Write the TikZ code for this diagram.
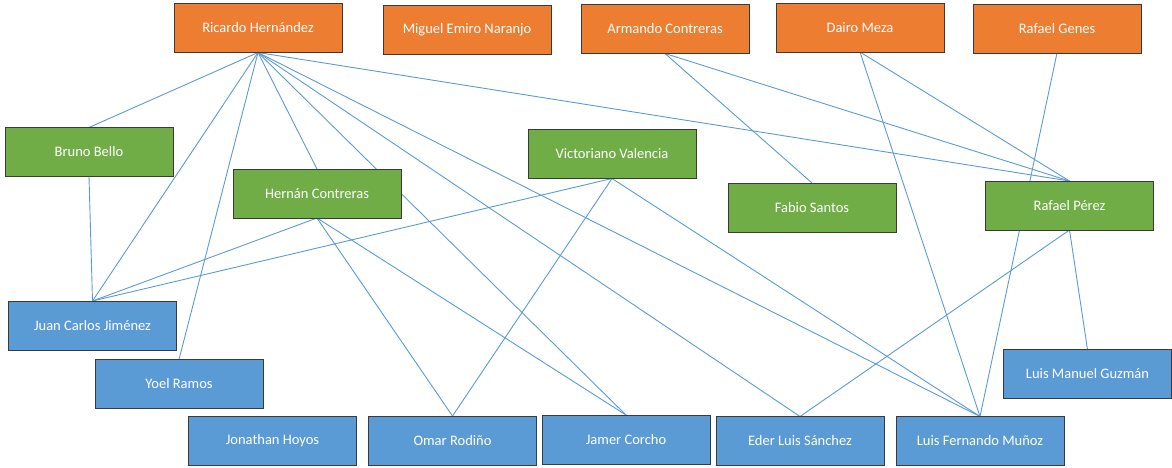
\documentclass[tikz,border=0pt]{standalone}
\usepackage{fontspec}
\setmainfont{Carlito}
\usetikzlibrary{backgrounds}
\definecolor{orangebox}{HTML}{ED7D31}
\definecolor{greenbox}{HTML}{70AD47}
\definecolor{bluebox}{HTML}{5B9BD5}
\definecolor{edgecol}{HTML}{5B9BD5}
\definecolor{rim}{HTML}{3A3A3A}
\tikzset{
  person/.style={draw=rim, line width=0.9pt, minimum width=168pt, minimum height=49pt,
    inner sep=0pt, outer sep=0pt, text=white, font=\fontsize{14.5}{17}\selectfont},
  top/.style={person, fill=orangebox},
  mid/.style={person, fill=greenbox},
  low/.style={person, fill=bluebox},
  link/.style={draw=edgecol, line width=0.9pt}
}
\begin{document}
\begin{tikzpicture}[x=1pt,y=-1pt]
\useasboundingbox (0,0) rectangle (1172,467);
% top row
\node[top] (ricardo) at (258,28) {Ricardo Hernández};
\node[top] (miguel) at (467,30) {Miguel Emiro Naranjo};
\node[top] (armando) at (665,29) {Armando Contreras};
\node[top] (dairo) at (860,27.5) {Dairo Meza};
\node[top] (genes) at (1057,28.5) {Rafael Genes};
% middle row
\node[mid] (bruno) at (89,152) {Bruno Bello};
\node[mid] (hernan) at (317,193.5) {Hernán Contreras};
\node[mid] (victoriano) at (612,154) {Victoriano Valencia};
\node[mid] (fabio) at (812,207.5) {Fabio Santos};
\node[mid] (perez) at (1069.5,205.5) {Rafael Pérez};
% bottom row
\node[low] (juan) at (92.5,325.5) {Juan Carlos Jiménez};
\node[low] (yoel) at (179,384) {Yoel Ramos};
\node[low] (jonathan) at (272.5,440.5) {Jonathan Hoyos};
\node[low] (omar) at (452.5,440.5) {Omar Rodiño};
\node[low] (jamer) at (626,439.5) {Jamer Corcho};
\node[low] (eder) at (800,441) {Eder Luis Sánchez};
\node[low] (fernando) at (980,441) {Luis Fernando Muñoz};
\node[low] (guzman) at (1087.5,374) {Luis Manuel Guzmán};
\begin{scope}[on background layer]
\draw[link] (ricardo.south) -- (bruno.north);
\draw[link] (ricardo.south) -- (juan.north);
\draw[link] (ricardo.south) -- (yoel.north);
\draw[link] (ricardo.south) -- (hernan.north);
\draw[link] (ricardo.south) -- (jamer.north);
\draw[link] (ricardo.south) -- (eder.north);
\draw[link] (ricardo.south) -- (fernando.north);
\draw[link] (ricardo.south) -- (perez.north);
\draw[link] (hernan.south) -- (juan.north);
\draw[link] (hernan.south) -- (omar.north);
\draw[link] (hernan.south) -- (jamer.north);
\draw[link] (victoriano.south) -- (juan.north);
\draw[link] (victoriano.south) -- (omar.north);
\draw[link] (victoriano.south) -- (fernando.north);
\draw[link] (armando.south) -- (fabio.north);
\draw[link] (armando.south) -- (perez.north);
\draw[link] (dairo.south) -- (perez.north);
\draw[link] (dairo.south) -- (fernando.north);
\draw[link] (genes.south) -- (fernando.north);
\draw[link] (perez.south) -- (eder.north);
\draw[link] (perez.south) -- (guzman.north);
\draw[link] (bruno.south) -- (juan.north);
\end{scope}
\end{tikzpicture}
\end{document}
